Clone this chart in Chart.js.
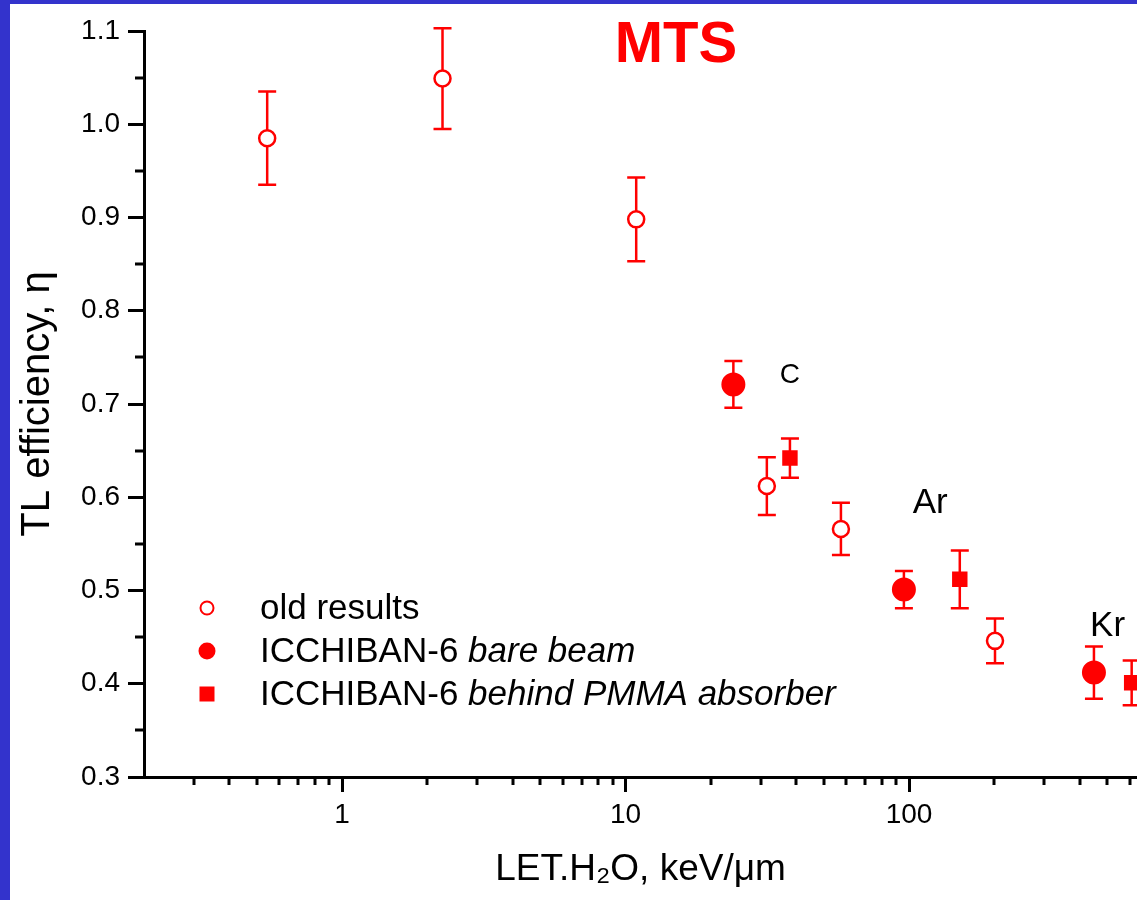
<!DOCTYPE html>
<html>
<head>
<meta charset="utf-8">
<script src="https://cdn.jsdelivr.net/npm/chart.js@4.4.1/dist/chart.umd.min.js"></script>
<style>
html, body { margin: 0; padding: 0; background: #3333cc; }
#wrap { position: absolute; left: 10px; top: 4px; width: 1127px; height: 896px; background: #fff; }
</style>
</head>
<body>
<div id="wrap"><canvas id="chart" width="1127" height="896"></canvas></div>
<script>
// values
const oldLet = [0.544, 2.26, 10.9, 31.5, 57.5, 201];
const oldEta = [0.985, 1.049, 0.898, 0.612, 0.566, 0.446];
const oldErr = [0.050, 0.054, 0.045, 0.031, 0.028, 0.024];

const bareLet = [24.0, 95.9, 449];
const bareEta = [0.721, 0.501, 0.412];
const bareErr = [0.025, 0.020, 0.028];

const pmmaLet = [38.0, 151, 610];
const pmmaEta = [0.642, 0.512, 0.401];
const pmmaErr = [0.021, 0.031, 0.024];

const ionNames = ['C', 'Ar', 'Kr'];
const ionLet = [35.0, 103, 435];
const ionEta = [0.723, 0.583, 0.451];

const xMajor = [1, 10, 100];
const xMinor = [0.3, 0.4, 0.5, 0.6, 0.7, 0.8, 0.9, 2, 3, 4, 5, 6, 7, 8, 9,
                20, 30, 40, 50, 60, 70, 80, 90, 200, 300, 400, 500, 600];
const yMajor = [0.3, 0.4, 0.5, 0.6, 0.7, 0.8, 0.9, 1.0, 1.1];
const yMinor = [0.35, 0.45, 0.55, 0.65, 0.75, 0.85, 0.95, 1.05];

const legendItems = [
    { plain: 'old results', italic: '', style: 'openCircle' },
    { plain: 'ICCHIBAN-6 ', italic: 'bare beam', style: 'circle' },
    { plain: 'ICCHIBAN-6 ', italic: 'behind PMMA absorber', style: 'square' }
];

const RED = '#ff0000';
const FONT = '"Liberation Sans", Arial, sans-serif';

function toPoints(xs, ys) {
    return xs.map((x, i) => ({ x: x, y: ys[i] }));
}

const errors = [oldErr, bareErr, pmmaErr];

// error bars under the markers
const errorBars = {
    id: 'errorBars',
    beforeDatasetsDraw(chart) {
        const ctx = chart.ctx;
        const xs = chart.scales.x, ys = chart.scales.y;
        ctx.save();
        ctx.strokeStyle = RED;
        ctx.lineWidth = 2.5;
        chart.data.datasets.forEach((ds, d) => {
            ds.data.forEach((p, i) => {
                const e = errors[d][i];
                const px = xs.getPixelForValue(p.x);
                const top = ys.getPixelForValue(p.y + e);
                const bot = ys.getPixelForValue(p.y - e);
                ctx.beginPath();
                ctx.moveTo(px, top); ctx.lineTo(px, bot);
                ctx.moveTo(px - 9, top); ctx.lineTo(px + 9, top);
                ctx.moveTo(px - 9, bot); ctx.lineTo(px + 9, bot);
                ctx.stroke();
            });
        });
        ctx.restore();
    }
};

// minor ticks, title, ion labels and the legend
const extras = {
    id: 'extras',
    afterDraw(chart) {
        const ctx = chart.ctx;
        const xs = chart.scales.x, ys = chart.scales.y;
        const area = chart.chartArea;
        ctx.save();

        ctx.strokeStyle = '#000';
        ctx.lineWidth = 3;
        ctx.beginPath();
        xMinor.forEach(v => {
            const px = Math.round(xs.getPixelForValue(v));
            ctx.moveTo(px, area.bottom);
            ctx.lineTo(px, area.bottom + 8);
        });
        yMinor.forEach(v => {
            const py = Math.round(ys.getPixelForValue(v));
            ctx.moveTo(area.left - 9, py);
            ctx.lineTo(area.left, py);
        });
        ctx.stroke();

        ctx.fillStyle = RED;
        ctx.font = 'bold 58px ' + FONT;
        ctx.textAlign = 'center';
        ctx.textBaseline = 'alphabetic';
        ctx.fillText('MTS', 666, 58);

        ctx.fillStyle = '#000';
        ctx.textAlign = 'left';
        ionNames.forEach((name, i) => {
            ctx.font = (name === 'C' ? 28 : 35) + 'px ' + FONT;
            ctx.fillText(name, xs.getPixelForValue(ionLet[i]), ys.getPixelForValue(ionEta[i]));
        });

        const mx = area.left + 63;
        const tx = area.left + 116;
        legendItems.forEach((item, i) => {
            const cy = 604 + i * 43;
            ctx.fillStyle = RED;
            ctx.strokeStyle = RED;
            ctx.lineWidth = 2;
            if (item.style === 'openCircle') {
                ctx.beginPath();
                ctx.arc(mx, cy, 6.5, 0, Math.PI * 2);
                ctx.fillStyle = '#fff';
                ctx.fill();
                ctx.stroke();
            } else if (item.style === 'circle') {
                ctx.beginPath();
                ctx.arc(mx, cy, 8.5, 0, Math.PI * 2);
                ctx.fill();
            } else {
                ctx.fillRect(mx - 7.5, cy - 7.5, 15, 15);
            }
            ctx.fillStyle = '#000';
            ctx.textBaseline = 'middle';
            ctx.font = '35px ' + FONT;
            ctx.fillText(item.plain, tx, cy + 1);
            const w = ctx.measureText(item.plain).width;
            ctx.font = 'italic 35px ' + FONT;
            ctx.fillText(item.italic, tx + w, cy + 1);
        });
        ctx.restore();
    }
};

new Chart(document.getElementById('chart').getContext('2d'), {
    type: 'scatter',
    data: {
        datasets: [{
            label: 'old results',
            data: toPoints(oldLet, oldEta),
            pointStyle: 'circle',
            pointRadius: 8,
            borderWidth: 2.5,
            borderColor: RED,
            backgroundColor: '#fff'
        }, {
            label: 'ICCHIBAN-6 bare beam',
            data: toPoints(bareLet, bareEta),
            pointStyle: 'circle',
            pointRadius: 11,
            borderWidth: 2,
            borderColor: RED,
            backgroundColor: RED
        }, {
            label: 'ICCHIBAN-6 behind PMMA absorber',
            data: toPoints(pmmaLet, pmmaEta),
            pointStyle: 'rect',
            pointRadius: 9.5,
            borderWidth: 2,
            borderColor: RED,
            backgroundColor: RED
        }]
    },
    options: {
        responsive: false,
        animation: false,
        layout: { autoPadding: false, padding: { top: 27, right: 0, left: 0, bottom: 0 } },
        plugins: {
            legend: { display: false },
            tooltip: { enabled: false }
        },
        scales: {
            x: {
                type: 'logarithmic',
                min: 0.2,
                max: 637,
                afterBuildTicks(scale) {
                    scale.ticks = xMajor.map(v => ({ value: v, major: true }));
                },
                afterFit(scale) { scale.height = 123; },
                ticks: {
                    autoSkip: false,
                    maxRotation: 0,
                    padding: 6,
                    color: '#000',
                    font: { family: FONT, size: 28 },
                    callback: v => String(v)
                },
                grid: {
                    display: true,
                    drawOnChartArea: false,
                    tickLength: 15,
                    tickWidth: 3,
                    tickColor: '#000'
                },
                border: { display: true, width: 3, color: '#000' },
                title: {
                    display: true,
                    text: 'LET.H\u2082O, keV/\u03bcm',
                    color: '#000',
                    font: { family: FONT, size: 37 },
                    padding: { top: 0, bottom: 8 }
                }
            },
            y: {
                min: 0.3,
                max: 1.1,
                afterBuildTicks(scale) {
                    scale.ticks = yMajor.map(v => ({ value: v }));
                },
                afterFit(scale) { scale.width = 134; },
                ticks: {
                    autoSkip: false,
                    padding: 8,
                    color: '#000',
                    font: { family: FONT, size: 28 },
                    callback: v => v.toFixed(1)
                },
                grid: {
                    display: true,
                    drawOnChartArea: false,
                    tickLength: 16,
                    tickWidth: 3,
                    tickColor: '#000'
                },
                border: { display: true, width: 3, color: '#000' },
                title: {
                    display: true,
                    text: 'TL efficiency, \u03b7',
                    color: '#000',
                    font: { family: FONT, size: 40 },
                    padding: { top: 4, bottom: 0 }
                }
            }
        }
    },
    plugins: [errorBars, extras]
});
</script>
</body>
</html>
